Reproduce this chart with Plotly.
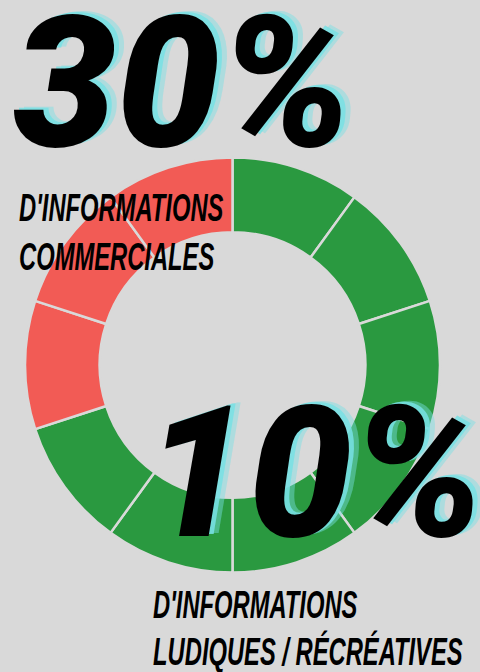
import plotly.graph_objects as go

# Data: ten equal segments of 10% each
segments = ["Ludique %d" % i for i in range(1, 8)] + ["Commercial %d" % i for i in range(1, 4)]
values = [10, 10, 10, 10, 10, 10, 10, 10, 10, 10]
categories = ["ludique"] * 7 + ["commercial"] * 3
big_labels = ["30%", "10%"]
captions = [["D'INFORMATIONS", "COMMERCIALES"], ["D'INFORMATIONS", "LUDIQUES / RÉCRÉATIVES"]]

BG = "#d9d9d9"
GREEN = "#2a9940"
RED = "#f25b55"
colors = [GREEN if c == "ludique" else RED for c in categories]

W, H = 480, 672
cx, cy, r = 232.5, 365.0, 207.5

fig = go.Figure(go.Pie(
    labels=segments,
    values=values,
    sort=False,
    direction="clockwise",
    rotation=0,
    hole=0.64,
    textinfo="none",
    hoverinfo="skip",
    marker=dict(colors=colors, line=dict(color=BG, width=2.5)),
    domain=dict(x=[(cx - r) / W, (cx + r) / W], y=[(H - cy - r) / H, (H - cy + r) / H]),
    showlegend=False,
))

shadow = "5px -2px 0 rgba(120,224,228,0.85), 10px -3px 0 rgba(120,224,228,0.45)"
cap_font = dict(family="Liberation Sans, Arial, sans-serif", size=38,
                color="#000000", weight="bold", style="italic")

def px_to_paper(x, y):
    return x / W, 1 - y / H

anns = []
# big numbers (center positions in pixels)
for lab, (x, y), size in zip(big_labels, [(182, 83), (314, 473)], [184, 184]):
    px, py = px_to_paper(x, y)
    anns.append(dict(text=lab, x=px, y=py, xref="paper", yref="paper", xanchor="center",
                     yanchor="middle", showarrow=False,
                     font=dict(family="Roboto, Inter, sans-serif", size=size, color="#000000",
                               weight=900, style="italic", shadow=shadow)))
# captions (left, middle of each line)
for lines, x, ys in [(captions[0], 17, [208, 257]), (captions[1], 151, [605, 651])]:
    for line, y in zip(lines, ys):
        px, py = px_to_paper(x, y)
        anns.append(dict(text=line, x=px, y=py, xref="paper", yref="paper", xanchor="left",
                         yanchor="middle", showarrow=False, font=cap_font))

fig.update_layout(
    width=W, height=H,
    margin=dict(l=0, r=0, t=0, b=0),
    paper_bgcolor=BG, plot_bgcolor=BG,
    annotations=anns,
)

post = """
document.body.style.margin = '0';
var gd = document.getElementById('{plot_id}');
gd.querySelectorAll('.annotation-text').forEach(function (t) {
  if (t.textContent.indexOf('%') < 0) {
    t.style.transformBox = 'fill-box';
    t.style.transformOrigin = '0% 50%';
    t.style.transform = 'scaleX(0.625)';
  }
});
"""

fig.write_html("out.html", post_script=post, config={"displayModeBar": False})
